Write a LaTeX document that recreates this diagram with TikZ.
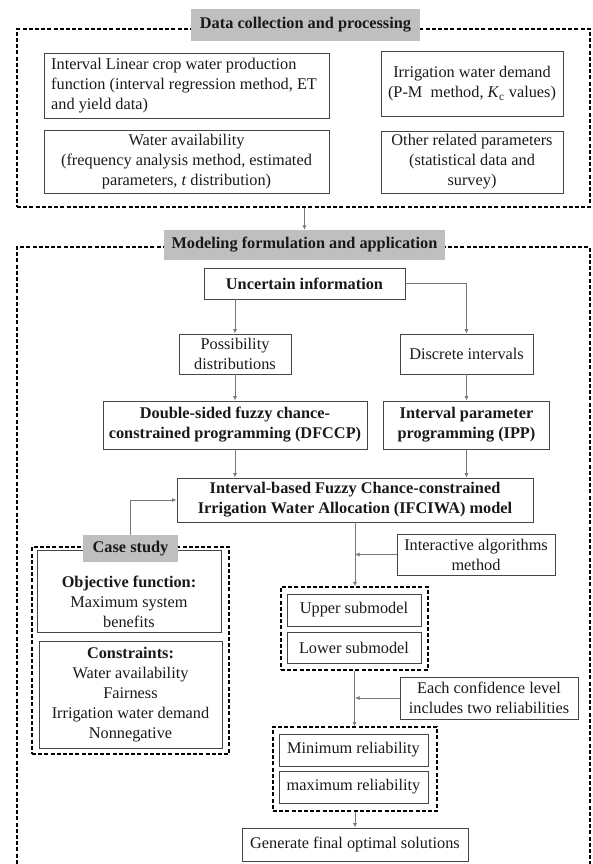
\documentclass[tikz,border=0pt]{standalone}
\usepackage{fontspec}
\setmainfont{Liberation Serif}
\usetikzlibrary{arrows.meta}
\definecolor{lblgray}{RGB}{191,191,191}
\definecolor{boxline}{RGB}{70,70,70}
\definecolor{conn}{RGB}{120,120,120}
\definecolor{txt}{RGB}{25,25,25}
\newcommand{\dfont}{\fontsize{16.3}{20}\selectfont}
\tikzset{
  box/.style={draw=boxline, line width=0.9pt, inner sep=0pt, align=center, text=txt,
    font=\dfont},
  bbox/.style={box, font=\dfont\bfseries},
  frame/.style={draw=black, line width=1.4pt, dash pattern=on 4pt off 2.2pt, inner sep=0pt},
  lbl/.style={fill=lblgray, inner sep=0pt, text=txt, font=\dfont\bfseries},
  arr/.style={draw=conn, line width=0.8pt, -{Latex[length=4.5pt,width=4pt]}},
}
\begin{document}
\begin{tikzpicture}[x=1pt,y=-1pt]
\useasboundingbox (0,0) rectangle (592,864);
% ---------------- data section
\node[frame, minimum width=573, minimum height=178] (dataframe) at (303.5,118) {};
\node[lbl, minimum width=229, minimum height=32] (datalabel) at (305.5,25) {Data collection and processing};
\node[box, minimum width=285, minimum height=65] (prodfun) at (186.5,85.5) {};
\node[anchor=west, inner sep=0pt, align=left, text=txt, font=\dfont] (prodtxt) at (51,85.5)
  {Interval Linear crop water production\\function (interval regression method, ET\\and yield data)};
\node[box, minimum width=182, minimum height=65] (irrdem) at (472,83.5)
  {Irrigation water demand\\(P-M\ \ method, \textit{K}\textsubscript{c} values)};
\node[box, minimum width=285, minimum height=63] (wateravail) at (186.5,161.5)
  {Water availability\\(frequency analysis method, estimated\\parameters, \textit{t} distribution)};
\node[box, minimum width=182, minimum height=62] (otherpar) at (472,162)
  {Other related parameters\\(statistical data and\\survey)};
% ---------------- modeling section
\node[frame, minimum width=573, minimum height=653] (modframe) at (303.5,573.5) {};
\node[lbl, minimum width=281, minimum height=30] (modlabel) at (304.5,245) {Modeling formulation and application};
\draw[arr] (modlabel.north |- dataframe.south) -- (modlabel.north);

\node[bbox, minimum width=201, minimum height=31] (unc) at (304.5,283.5) {Uncertain information};
\node[box, minimum width=112, minimum height=40] (poss) at (235,354) {Possibility\\distributions};
\node[box, minimum width=133, minimum height=40] (disc) at (466.5,354) {Discrete intervals};
\node[bbox, minimum width=264, minimum height=48] (dfccp) at (235,425) {Double-sided fuzzy chance-\\constrained programming (DFCCP)};
\node[bbox, minimum width=166, minimum height=48] (ipp) at (466.5,425) {Interval parameter\\programming (IPP)};
\node[bbox, minimum width=356, minimum height=44] (ifciwa) at (355,500) {Interval-based Fuzzy Chance-constrained\\Irrigation Water Allocation (IFCIWA) model};

\draw[arr] (poss.north |- unc.south) -- (poss.north);
\draw[arr] (unc.east) -| (disc.north);
\draw[arr] (poss.south) -- (dfccp.north);
\draw[arr] (disc.south) -- (ipp.north);
\draw[arr] (dfccp.south) -- (dfccp.south |- ifciwa.north);
\draw[arr] (ipp.south) -- (ipp.south |- ifciwa.north);

% case study
\node[frame, line width=1.3pt, minimum width=197, minimum height=207] (casefr) at (130.5,650.5) {};
\node[box, minimum width=184, minimum height=82] (objbox) at (129,591) {};
\node[inner sep=0pt, align=center, text=txt, font=\dfont] (objtxt) at (129,601.5)
  {\textbf{Objective function:}\\Maximum system\\benefits};
\node[box, minimum width=183, minimum height=107] (consbox) at (130.5,694.5)
  {\textbf{Constraints:}\\Water availability\\Fairness\\Irrigation water demand\\Nonnegative};
\node[lbl, minimum width=95, minimum height=27] (caselabel) at (130.5,548.5) {Case study};
\draw[arr] (caselabel.north) |- (ifciwa.west);

% right column
\node[box, minimum width=158, minimum height=41] (inter) at (476,554.5) {Interactive algorithms\\method};
\node[frame, line width=1.3pt, minimum width=147, minimum height=83] (updash) at (354.5,628.5) {};
\node[box, minimum width=134, minimum height=32] (upper) at (354,610) {Upper submodel};
\node[box, minimum width=134, minimum height=31] (lower) at (354,647.5) {Lower submodel};
\draw[arr] (ifciwa.south) -- (ifciwa.south |- updash.north);
\draw[arr] (inter.west) -- (ifciwa.south |- inter.west);

\node[box, minimum width=178, minimum height=42] (conf) at (489,698) {Each confidence level\\includes two reliabilities};
\node[frame, line width=1.3pt, minimum width=164, minimum height=84] (mmdash) at (355,769) {};
\node[box, minimum width=149, minimum height=32] (minrel) at (353.5,750) {Minimum reliability};
\node[box, minimum width=149, minimum height=32] (maxrel) at (353.5,787) {maximum reliability};
\draw[arr] (updash.south) -- (updash.south |- mmdash.north);
\draw[arr] (conf.west) -- (mmdash.north |- conf.west);

\node[box, minimum width=226, minimum height=33] (gen) at (355,844.5) {Generate final optimal solutions};
\draw[arr] (mmdash.south) -- (mmdash.south |- gen.north);
\end{tikzpicture}
\end{document}
